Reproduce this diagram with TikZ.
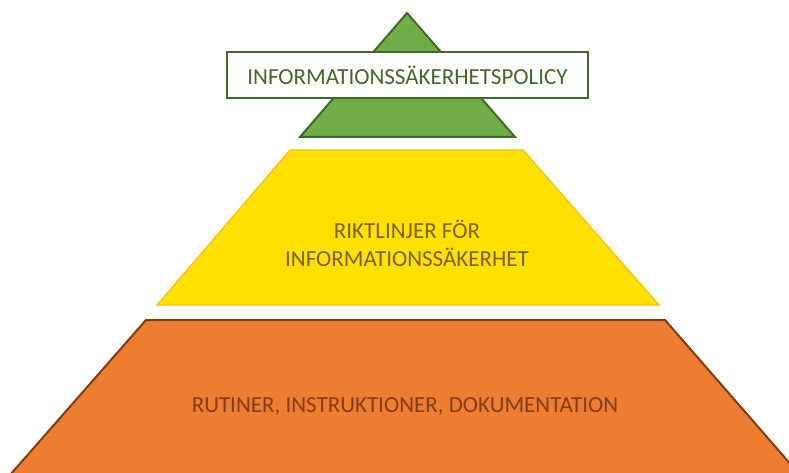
\documentclass[tikz,border=0pt]{standalone}
\usepackage{fontspec}
\setmainfont{Carlito}
\usetikzlibrary{positioning}

\definecolor{policyfill}{HTML}{70AD47}
\definecolor{policyline}{HTML}{43682B}
\definecolor{guidefill}{HTML}{FFE100}
\definecolor{guideline}{HTML}{FFC000}
\definecolor{guidetext}{HTML}{7F6000}
\definecolor{routinefill}{HTML}{ED7D31}
\definecolor{routineline}{HTML}{843C0C}

\begin{document}
\begin{tikzpicture}[
  x=1pt, y=-1pt,
  every node/.style={font=\fontsize{23}{28}\selectfont, inner sep=0pt},
  level/.style={line join=miter},
  label box/.style={draw=policyline, line width=2pt, fill=white,
    minimum width=361pt, minimum height=46pt, text=policyline}
]
\useasboundingbox (0,0) rectangle (789,473);

% three levels, bottom up
\begin{scope}
  \clip (0,0) rectangle (789,473);
  \draw[level, fill=routinefill, draw=routineline, line width=2pt]
    (146,320) -- (665,320) -- (800,475) -- (10,475) -- cycle;
\end{scope}
\draw[level, fill=guidefill, draw=guideline, line width=1.2pt]
  (290,150) -- (523,150) -- (659,305) -- (157,305) -- cycle;
\draw[level, fill=policyfill, draw=policyline, line width=2pt]
  (407,13) -- (515,137) -- (300,137) -- cycle;

% texts
\node[label box] (policy) at (407.5,75) {INFORMATIONSSÄKERHETSPOLICY};
\node[text=guidetext, align=center] (guide) at (407,243)
  {RIKTLINJER FÖR\\INFORMATIONSSÄKERHET};
\node[text=routineline] (routine) at (405,407)
  {RUTINER, INSTRUKTIONER, DOKUMENTATION};
\end{tikzpicture}
\end{document}
